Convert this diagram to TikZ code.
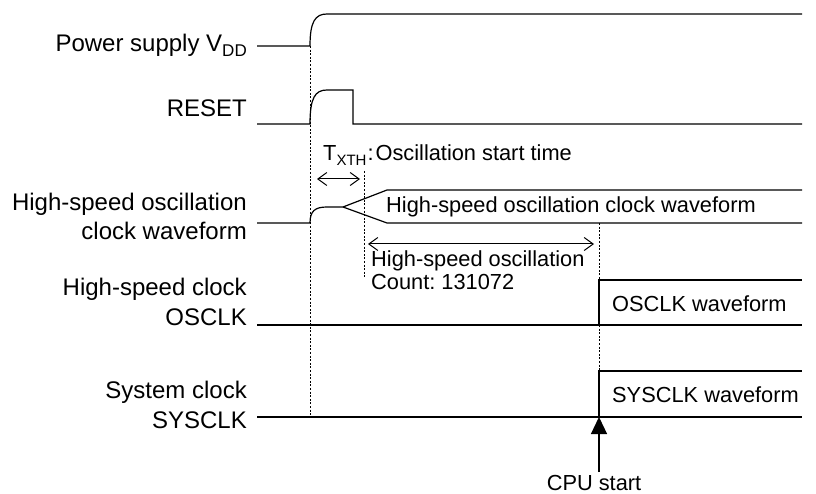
\documentclass[tikz,border=0pt]{standalone}
\usepackage{fontspec}
\setmainfont{Liberation Sans}
\usetikzlibrary{arrows.meta}
\frenchspacing
\begin{document}
\begin{tikzpicture}[x=1pt,y=-1pt,
  wave/.style={line width=1.2pt, line join=miter},
  guide/.style={line width=0.7pt, dash pattern=on 2pt off 1.6pt},
  dim/.style={line width=1pt, {Straight Barb[length=9pt,width=13pt]}-{Straight Barb[length=9pt,width=13pt]}},
  lbl/.style={inner sep=0pt, anchor=base east, font=\fontsize{24}{29}\selectfont},
  txt/.style={inner sep=0pt, anchor=base west, font=\fontsize{21.8}{26}\selectfont}]
\useasboundingbox (0,0) rectangle (816,494);
% labels
\node[lbl] (l-vdd) at (247,52) {Power supply V\raisebox{-4.5pt}{\fontsize{17}{18}\selectfont DD}};
\node[lbl] (l-rst) at (247,117) {RESET};
\node[lbl] (l-osc1) at (247,211) {High-speed oscillation};
\node[lbl] (l-osc2) at (247,240) {clock waveform};
\node[lbl] (l-hs1) at (247,295) {High-speed clock};
\node[lbl] (l-hs2) at (247,325) {OSCLK};
\node[lbl] (l-sys1) at (247,398) {System clock};
\node[lbl] (l-sys2) at (247,428) {SYSCLK};
% VDD
\draw[wave] (257,46) -- (310,46) .. controls (310,22) and (315,14) .. (327,14) -- (802,14);
% RESET
\draw[wave] (257,124) -- (310,124) .. controls (310,98) and (315,90) .. (327,90) -- (353,90) -- (353,124) -- (802,124);
% oscillator
\coordinate (split) at (343,207);
\draw[wave] (257,223) -- (310,223) .. controls (310,211) and (315,207) .. (327,207) -- (split);
\draw[wave] (split) -- (387,190) -- (802,190);
\draw[wave] (split) -- (387,223) -- (802,223);
% OSCLK
\draw[wave] (257,325) -- (802,325);
\draw[wave] (599,325) -- (599,280) -- (802,280);
% SYSCLK
\draw[wave] (257,417) -- (802,417);
\draw[wave] (599,417) -- (599,371) -- (802,371);
% guides
\coordinate (g0a) at (310,46);
\coordinate (g0b) at (310,417);
\draw[guide] (g0a) -- (g0b);
\coordinate (g1a) at (364,171);
\coordinate (g1b) at (364,277);
\draw[guide] (g1a) -- (g1b);
\coordinate (g2a) at (599,223);
\coordinate (g2b) at (599,280);
\draw[guide] (g2a) -- (g2b);
\coordinate (g3a) at (599,325);
\coordinate (g3b) at (599,371);
\draw[guide] (g3a) -- (g3b);
% TXTH
\coordinate (d1a) at (317,179);
\coordinate (d1b) at (360,179);
\draw[dim] (d1a) -- (d1b);
\node[txt] (txth) at (323,161) {T\raisebox{-4.5pt}{\fontsize{15}{17}\selectfont XTH}\hspace{1pt}:\hspace{2pt}Oscillation start time};
% waveform text
\node[txt] (t-osc) at (386,213) {High-speed oscillation clock waveform};
% count
\coordinate (d2a) at (368,244);
\coordinate (d2b) at (594,244);
\draw[dim] (d2a) -- (d2b);
\node[txt] (cnt1) at (371,266) {High-speed oscillation};
\node[txt] (cnt2) at (371,290) {Count: 131072};
\node[txt] (t-osclk) at (612,311) {OSCLK waveform};
\node[txt] (t-sysclk) at (612,402) {SYSCLK waveform};
% CPU start
\node[inner sep=0pt, anchor=base, font=\fontsize{21.8}{26}\selectfont] (cpu) at (594,490) {CPU start};
\coordinate (cpuarr) at (599,472);
\coordinate (cputip) at (599,417);
\draw[line width=1.2pt, -{Triangle[length=17pt,width=16pt]}] (cpuarr) -- (cputip);
\end{tikzpicture}
\end{document}
